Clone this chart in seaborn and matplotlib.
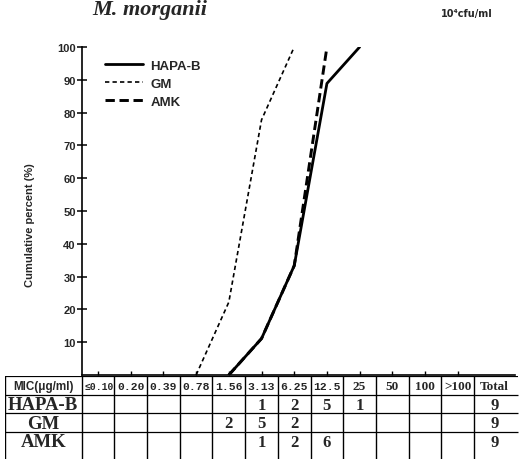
import numpy as np
import pandas as pd
import matplotlib
matplotlib.use("Agg")
import matplotlib.pyplot as plt
import seaborn as sns

# ---------------- data ----------------
categories = ["≤0.10", "0.20", "0.39", "0.78", "1.56", "3.13", "6.25", "12.5",
              "25", "50", "100", ">100"]
drugs = ["HAPA-B", "GM", "AMK"]
hapa_b_counts = [0, 0, 0, 0, 0, 1, 2, 5, 1, 0, 0, 0]
gm_counts = [0, 0, 0, 0, 2, 5, 2, 0, 0, 0, 0, 0]
amk_counts = [0, 0, 0, 0, 0, 1, 2, 6, 0, 0, 0, 0]
totals = [9, 9, 9]
title = "M. morganii"
inoculum = "10⁴cfu/ml"
ylabel = "Cumulative percent (%)"
header_label = "MIC(μg/ml)"
total_label = "Total"

counts_list = [hapa_b_counts, gm_counts, amk_counts]

# cumulative percentage curves derived from the table counts
rows = []
for drug, counts in zip(drugs, counts_list):
    counts = np.asarray(counts)
    cum = np.cumsum(counts) / counts.sum() * 100
    first = int(np.nonzero(counts)[0][0])
    last = int(np.nonzero(cum >= 100 - 1e-9)[0][0])
    rows.append((drug, first - 1, 0.0))
    for i in range(first, last + 1):
        rows.append((drug, i, cum[i]))
df = pd.DataFrame(rows, columns=["drug", "x", "pct"])

# ---------------- style ----------------
sns.set_theme(style="white")
plt.rcParams["font.family"] = ["Liberation Sans", "DejaVu Sans"]

W, H = 520, 460
fig = plt.figure(figsize=(W / 100, H / 100), dpi=100)
fig.patch.set_facecolor("white")


def px_axes(l, t, r, b):
    return fig.add_axes([l / W, 1 - b / H, (r - l) / W, (b - t) / H])


ax = px_axes(82, 48, 515, 376)
ax.set_facecolor("white")

line_styles = {
    "HAPA-B": dict(linestyle="-", linewidth=2.0),
    "GM": dict(linestyle=(0, (2.6, 1.9)), linewidth=1.2),
    "AMK": dict(linestyle=(0, (3.2, 1.6)), linewidth=2.1),
}
for d in drugs:
    sns.lineplot(data=df[df["drug"] == d], x="x", y="pct", ax=ax, color="black",
                 label=d, **line_styles[d])

ax.set_xlim(-0.489, 12.75)
ax.set_ylim(0, 100)
ax.set_xticks(range(len(categories)))
ax.set_xticklabels([])
ax.set_yticks(range(10, 101, 10))
ax.set_yticklabels([str(v) for v in range(10, 101, 10)], fontsize=8,
                   fontweight="bold")
ax.tick_params(axis="y", direction="inout", length=7, width=1.1, color="black",
               pad=1, left=True)
ax.tick_params(axis="x", direction="in", length=3, width=1, color="black",
               bottom=True)
for s in ["top", "right"]:
    ax.spines[s].set_visible(False)
for s in ["left", "bottom"]:
    ax.spines[s].set_color("black")
    ax.spines[s].set_linewidth(1.2)
ax.set_xlabel("")
ax.set_ylabel(ylabel, fontsize=8, fontweight="bold")
ax.yaxis.set_label_coords(-0.108, 0.46)

leg = ax.legend(loc="upper left", bbox_to_anchor=(0.053, 0.962), frameon=False,
                borderaxespad=0, borderpad=0, handlelength=2.9,
                handletextpad=0.53, labelspacing=0.45,
                prop=dict(size=9.5, weight="bold"))

# ---------------- table ----------------
tab = px_axes(5, 377, 520, 460)
tab.set_xlim(-2.844, 12.905)
tab.set_ylim(4.486, 0)
tab.axis("off")

n = len(categories)
x_left, x_right = -2.844, 12.75
bounds = [x_left] + [i - 0.5 for i in range(n + 1)]
for b in bounds:
    tab.vlines(b, 0, 4.486, color="black", linewidth=1.0)
tab.hlines(0, x_left, x_right + 0.1, color="black", linewidth=1.6)
for r in range(1, 4):
    tab.hlines(r, x_left, x_right + 0.1, color="black", linewidth=0.9)

label_x = (x_left - 0.5) / 2
total_x = (n - 0.5 + x_right) / 2

serif = ["Liberation Serif", "DejaVu Serif"]
mono = ["Liberation Mono", "DejaVu Sans Mono"]

tab.text(label_x, 0.52, header_label, ha="center", va="center", fontsize=8.4,
         fontweight="bold", family=["Liberation Sans", "DejaVu Sans"])
for i, c in enumerate(categories):
    if "." in c:
        fs = 7.0 if len(c) > 4 else 8.2
        tab.text(i + (0.03 if len(c) > 4 else 0), 0.52, c, ha="center",
                 va="center", fontsize=fs, fontweight="bold", family=mono)
    else:
        tab.text(i, 0.52, c, ha="center", va="center", fontsize=9.5,
                 fontweight="bold", family=serif)
tab.text(total_x, 0.52, total_label, ha="center", va="center", fontsize=9.5,
         fontweight="bold", family=serif)

for r, (drug, counts, tot) in enumerate(zip(drugs, counts_list, totals), start=1):
    tab.text(label_x, r + 0.55, drug, ha="center", va="center", fontsize=13.5,
             fontweight="bold", family=serif)
    for i, v in enumerate(counts):
        if v:
            tab.text(i, r + 0.55, str(v), ha="center", va="center", fontsize=12,
                     fontweight="bold", family=serif)
    tab.text(total_x, r + 0.55, str(tot), ha="center", va="center", fontsize=12,
             fontweight="bold", family=serif)

# ---------------- titles ----------------
fig.text(150 / W, 1 - 15 / H, title, ha="center", va="baseline", fontsize=16,
         fontweight="bold", style="italic", family=serif)
fig.text(467 / W, 1 - 14 / H, inoculum, ha="center", va="center", fontsize=7,
         fontweight="bold", family=["DejaVu Sans"])

fig.savefig("out.png", dpi=100, facecolor="white")
